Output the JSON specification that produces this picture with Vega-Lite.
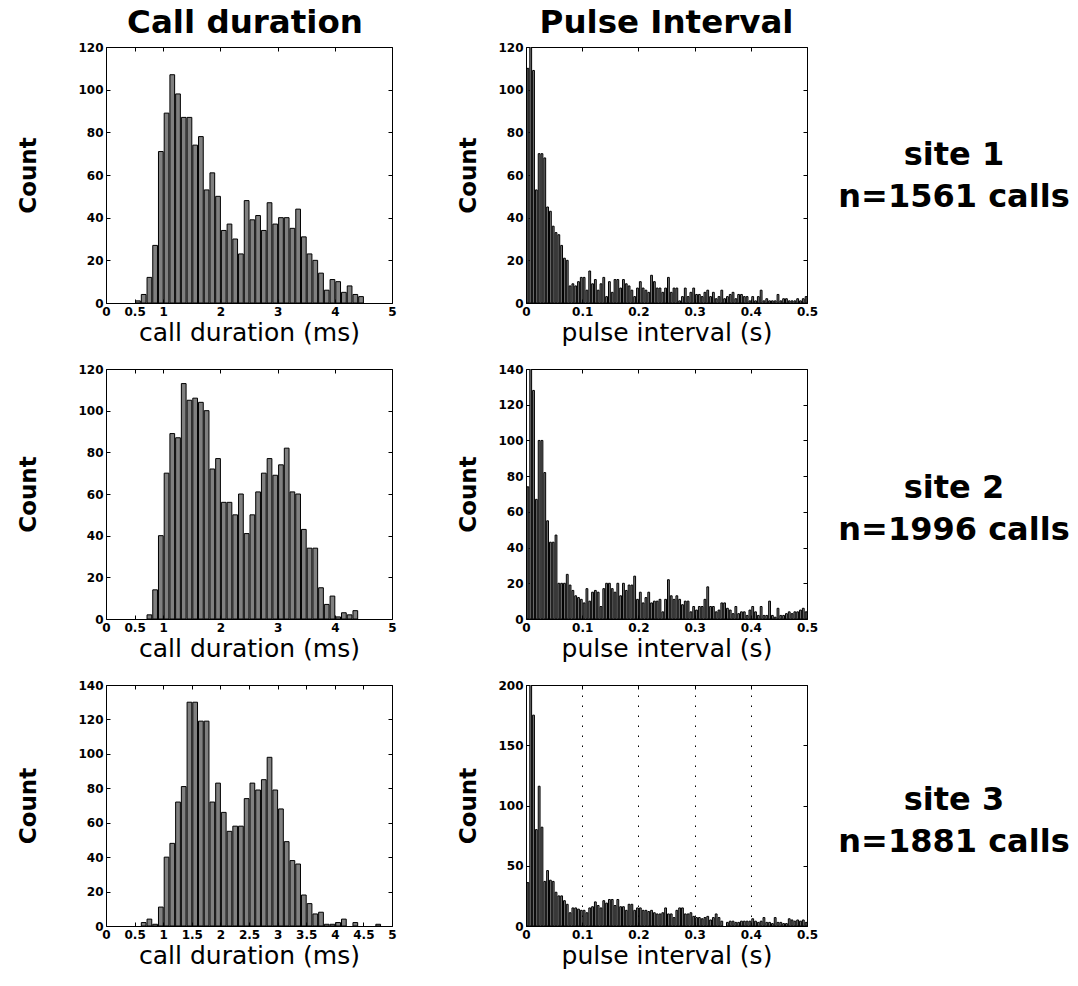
{
  "$schema": "https://vega.github.io/schema/vega-lite/v6.json",
  "padding": {"left": 17, "top": 6, "right": 0, "bottom": 0},
  "autosize": {"type": "pad"},
  "background": "white",
  "datasets": {
    "cd1": [{"b":0.5,"n":1},{"b":0.6,"n":4},{"b":0.7,"n":12},{"b":0.8,"n":27},{"b":0.9,"n":71},{"b":1.0,"n":89},{"b":1.1,"n":107},{"b":1.2,"n":98},{"b":1.3,"n":87},{"b":1.4,"n":87},{"b":1.5,"n":74},{"b":1.6,"n":78},{"b":1.7,"n":53},{"b":1.8,"n":61},{"b":1.9,"n":50},{"b":2.0,"n":34},{"b":2.1,"n":37},{"b":2.2,"n":30},{"b":2.3,"n":23},{"b":2.4,"n":48},{"b":2.5,"n":39},{"b":2.6,"n":41},{"b":2.7,"n":34},{"b":2.8,"n":47},{"b":2.9,"n":37},{"b":3.0,"n":40},{"b":3.1,"n":40},{"b":3.2,"n":35},{"b":3.3,"n":44},{"b":3.4,"n":31},{"b":3.5,"n":23},{"b":3.6,"n":20},{"b":3.7,"n":14},{"b":3.8,"n":6},{"b":3.9,"n":11},{"b":4.0,"n":10},{"b":4.1,"n":5},{"b":4.2,"n":8},{"b":4.3,"n":4},{"b":4.4,"n":3}],
    "cd2": [{"b":0.7,"n":2},{"b":0.8,"n":14},{"b":0.9,"n":40},{"b":1.0,"n":70},{"b":1.1,"n":89},{"b":1.2,"n":87},{"b":1.3,"n":113},{"b":1.4,"n":105},{"b":1.5,"n":106},{"b":1.6,"n":104},{"b":1.7,"n":100},{"b":1.8,"n":72},{"b":1.9,"n":77},{"b":2.0,"n":56},{"b":2.1,"n":56},{"b":2.2,"n":50},{"b":2.3,"n":60},{"b":2.4,"n":41},{"b":2.5,"n":50},{"b":2.6,"n":61},{"b":2.7,"n":70},{"b":2.8,"n":77},{"b":2.9,"n":69},{"b":3.0,"n":74},{"b":3.1,"n":82},{"b":3.2,"n":61},{"b":3.3,"n":60},{"b":3.4,"n":43},{"b":3.5,"n":34},{"b":3.6,"n":34},{"b":3.7,"n":15},{"b":3.8,"n":7},{"b":3.9,"n":11},{"b":4.0,"n":1},{"b":4.1,"n":3},{"b":4.2,"n":2},{"b":4.3,"n":4}],
    "cd3": [{"b":0.6,"n":2},{"b":0.7,"n":4},{"b":0.8,"n":1},{"b":0.9,"n":11},{"b":1.0,"n":40},{"b":1.1,"n":48},{"b":1.2,"n":72},{"b":1.3,"n":81},{"b":1.4,"n":130},{"b":1.5,"n":130},{"b":1.6,"n":119},{"b":1.7,"n":119},{"b":1.8,"n":72},{"b":1.9,"n":83},{"b":2.0,"n":66},{"b":2.1,"n":55},{"b":2.2,"n":58},{"b":2.3,"n":58},{"b":2.4,"n":74},{"b":2.5,"n":83},{"b":2.6,"n":79},{"b":2.7,"n":85},{"b":2.8,"n":98},{"b":2.9,"n":79},{"b":3.0,"n":68},{"b":3.1,"n":49},{"b":3.2,"n":38},{"b":3.3,"n":36},{"b":3.4,"n":18},{"b":3.5,"n":13},{"b":3.6,"n":7},{"b":3.7,"n":8},{"b":3.8,"n":1},{"b":3.9,"n":1},{"b":4.0,"n":2},{"b":4.1,"n":4},{"b":4.3,"n":2},{"b":4.7,"n":1}],
    "pi1": [{"b":0,"n":110},{"b":0.005,"n":122},{"b":0.01,"n":109},{"b":0.015,"n":53},{"b":0.02,"n":70},{"b":0.025,"n":70},{"b":0.03,"n":68},{"b":0.035,"n":45},{"b":0.04,"n":43},{"b":0.045,"n":36},{"b":0.05,"n":33},{"b":0.055,"n":32},{"b":0.06,"n":27},{"b":0.065,"n":21},{"b":0.07,"n":20},{"b":0.075,"n":8},{"b":0.08,"n":9},{"b":0.085,"n":8},{"b":0.09,"n":10},{"b":0.095,"n":12},{"b":0.1,"n":12},{"b":0.105,"n":6},{"b":0.11,"n":15},{"b":0.115,"n":9},{"b":0.12,"n":11},{"b":0.125,"n":6},{"b":0.13,"n":9},{"b":0.135,"n":12},{"b":0.14,"n":3},{"b":0.145,"n":10},{"b":0.15,"n":5},{"b":0.155,"n":11},{"b":0.16,"n":11},{"b":0.165,"n":7},{"b":0.17,"n":11},{"b":0.175,"n":9},{"b":0.18,"n":8},{"b":0.185,"n":6},{"b":0.19,"n":3},{"b":0.195,"n":7},{"b":0.2,"n":10},{"b":0.205,"n":7},{"b":0.21,"n":6},{"b":0.215,"n":5},{"b":0.22,"n":13},{"b":0.225,"n":10},{"b":0.23,"n":7},{"b":0.235,"n":7},{"b":0.24,"n":5},{"b":0.245,"n":7},{"b":0.25,"n":12},{"b":0.255,"n":5},{"b":0.26,"n":7},{"b":0.265,"n":7},{"b":0.27,"n":1},{"b":0.275,"n":3},{"b":0.28,"n":7},{"b":0.285,"n":3},{"b":0.29,"n":5},{"b":0.295,"n":7},{"b":0.3,"n":4},{"b":0.305,"n":4},{"b":0.31,"n":3},{"b":0.315,"n":5},{"b":0.32,"n":6},{"b":0.325,"n":3},{"b":0.33,"n":5},{"b":0.335,"n":2},{"b":0.34,"n":3},{"b":0.345,"n":6},{"b":0.35,"n":2},{"b":0.355,"n":3},{"b":0.36,"n":4},{"b":0.365,"n":5},{"b":0.37,"n":2},{"b":0.375,"n":4},{"b":0.38,"n":4},{"b":0.385,"n":3},{"b":0.39,"n":3},{"b":0.395,"n":1},{"b":0.4,"n":3},{"b":0.405,"n":1},{"b":0.41,"n":3},{"b":0.415,"n":6},{"b":0.42,"n":1},{"b":0.425,"n":2},{"b":0.43,"n":1},{"b":0.435,"n":1},{"b":0.44,"n":1},{"b":0.445,"n":4},{"b":0.45,"n":1},{"b":0.455,"n":2},{"b":0.46,"n":2},{"b":0.465,"n":1},{"b":0.47,"n":1},{"b":0.475,"n":1},{"b":0.48,"n":2},{"b":0.485,"n":1},{"b":0.49,"n":2},{"b":0.495,"n":3}],
    "pi2": [{"b":0,"n":74},{"b":0.005,"n":145},{"b":0.01,"n":128},{"b":0.015,"n":67},{"b":0.02,"n":100},{"b":0.025,"n":100},{"b":0.03,"n":82},{"b":0.035,"n":55},{"b":0.04,"n":43},{"b":0.045,"n":43},{"b":0.05,"n":47},{"b":0.055,"n":20},{"b":0.06,"n":20},{"b":0.065,"n":20},{"b":0.07,"n":25},{"b":0.075,"n":19},{"b":0.08,"n":16},{"b":0.085,"n":13},{"b":0.09,"n":12},{"b":0.095,"n":11},{"b":0.1,"n":9},{"b":0.105,"n":17},{"b":0.11,"n":10},{"b":0.115,"n":15},{"b":0.12,"n":16},{"b":0.125,"n":15},{"b":0.13,"n":7},{"b":0.135,"n":17},{"b":0.14,"n":20},{"b":0.145,"n":20},{"b":0.15,"n":17},{"b":0.155,"n":15},{"b":0.16,"n":20},{"b":0.165,"n":13},{"b":0.17,"n":20},{"b":0.175,"n":16},{"b":0.18,"n":19},{"b":0.185,"n":19},{"b":0.19,"n":24},{"b":0.195,"n":11},{"b":0.2,"n":15},{"b":0.205,"n":9},{"b":0.21,"n":12},{"b":0.215,"n":15},{"b":0.22,"n":9},{"b":0.225,"n":10},{"b":0.23,"n":10},{"b":0.235,"n":11},{"b":0.24,"n":4},{"b":0.245,"n":11},{"b":0.25,"n":22},{"b":0.255,"n":13},{"b":0.26,"n":11},{"b":0.265,"n":13},{"b":0.27,"n":11},{"b":0.275,"n":8},{"b":0.28,"n":10},{"b":0.285,"n":10},{"b":0.29,"n":4},{"b":0.295,"n":7},{"b":0.3,"n":5},{"b":0.305,"n":7},{"b":0.31,"n":7},{"b":0.315,"n":11},{"b":0.32,"n":18},{"b":0.325,"n":7},{"b":0.33,"n":7},{"b":0.335,"n":4},{"b":0.34,"n":5},{"b":0.345,"n":9},{"b":0.35,"n":9},{"b":0.355,"n":6},{"b":0.36,"n":5},{"b":0.365,"n":3},{"b":0.37,"n":7},{"b":0.375,"n":3},{"b":0.38,"n":4},{"b":0.385,"n":4},{"b":0.39,"n":2},{"b":0.395,"n":5},{"b":0.4,"n":7},{"b":0.405,"n":4},{"b":0.41,"n":2},{"b":0.415,"n":7},{"b":0.42,"n":2},{"b":0.425,"n":2},{"b":0.43,"n":10},{"b":0.435,"n":2},{"b":0.44,"n":1},{"b":0.445,"n":6},{"b":0.45,"n":2},{"b":0.455,"n":2},{"b":0.46,"n":3},{"b":0.465,"n":4},{"b":0.47,"n":3},{"b":0.475,"n":4},{"b":0.48,"n":4},{"b":0.485,"n":5},{"b":0.49,"n":6},{"b":0.495,"n":4}],
    "pi3": [{"b":0,"n":36},{"b":0.005,"n":210},{"b":0.01,"n":175},{"b":0.015,"n":80},{"b":0.02,"n":116},{"b":0.025,"n":82},{"b":0.03,"n":37},{"b":0.035,"n":46},{"b":0.04,"n":38},{"b":0.045,"n":37},{"b":0.05,"n":28},{"b":0.055,"n":25},{"b":0.06,"n":25},{"b":0.065,"n":21},{"b":0.07,"n":18},{"b":0.075,"n":11},{"b":0.08,"n":15},{"b":0.085,"n":15},{"b":0.09,"n":14},{"b":0.095,"n":13},{"b":0.1,"n":13},{"b":0.105,"n":11},{"b":0.11,"n":15},{"b":0.115,"n":16},{"b":0.12,"n":20},{"b":0.125,"n":17},{"b":0.13,"n":15},{"b":0.135,"n":21},{"b":0.14,"n":19},{"b":0.145,"n":22},{"b":0.15,"n":22},{"b":0.155,"n":17},{"b":0.16,"n":22},{"b":0.165,"n":16},{"b":0.17,"n":16},{"b":0.175,"n":13},{"b":0.18,"n":18},{"b":0.185,"n":18},{"b":0.19,"n":13},{"b":0.195,"n":15},{"b":0.2,"n":15},{"b":0.205,"n":13},{"b":0.21,"n":13},{"b":0.215,"n":12},{"b":0.22,"n":13},{"b":0.225,"n":11},{"b":0.23,"n":10},{"b":0.235,"n":10},{"b":0.24,"n":11},{"b":0.245,"n":15},{"b":0.25,"n":10},{"b":0.255,"n":10},{"b":0.26,"n":7},{"b":0.265,"n":13},{"b":0.27,"n":15},{"b":0.275,"n":15},{"b":0.28,"n":10},{"b":0.285,"n":10},{"b":0.29,"n":11},{"b":0.295,"n":8},{"b":0.3,"n":7},{"b":0.305,"n":7},{"b":0.31,"n":6},{"b":0.315,"n":7},{"b":0.32,"n":8},{"b":0.325,"n":5},{"b":0.33,"n":7},{"b":0.335,"n":10},{"b":0.34,"n":7},{"b":0.345,"n":4},{"b":0.355,"n":3},{"b":0.36,"n":4},{"b":0.365,"n":4},{"b":0.37,"n":3},{"b":0.375,"n":3},{"b":0.38,"n":4},{"b":0.385,"n":4},{"b":0.39,"n":4},{"b":0.395,"n":4},{"b":0.4,"n":6},{"b":0.405,"n":4},{"b":0.41,"n":3},{"b":0.415,"n":4},{"b":0.42,"n":7},{"b":0.425,"n":3},{"b":0.43,"n":3},{"b":0.435,"n":2},{"b":0.44,"n":7},{"b":0.445,"n":3},{"b":0.45,"n":3},{"b":0.455,"n":2},{"b":0.46,"n":2},{"b":0.465,"n":6},{"b":0.47,"n":5},{"b":0.475,"n":4},{"b":0.48,"n":5},{"b":0.485,"n":4},{"b":0.49,"n":5},{"b":0.495,"n":3}]
  },
  "columns": 3,
  "bounds": "flush",
  "align": "each",
  "spacing": {"row": 66, "column": 134},
  "concat": [
    {
      "width": 286, "height": 256,
      "title": {"text": "Call duration", "font": "DejaVu Sans", "fontSize": 32.5, "fontWeight": "bold", "color": "#000", "baseline": "alphabetic", "offset": -24, "anchor": "middle", "dx": -4},
      "data": {"name": "cd1"},
      "layer": [
        {"mark": {"type": "bar", "fill": "#808080", "stroke": "#000", "strokeWidth": 1, "clip": true},
         "encoding": {
           "x": {"field": "b", "type": "quantitative", "bin": {"binned": true, "step": 0.1}, "scale": {"domain": [0, 5], "nice": false, "zero": false},
                 "axis": {"orient": "bottom", "values": [0, 0.5, 1, 2, 3, 4, 5], "format": "~g", "title": "call duration (ms)"}},
           "y": {"field": "n", "type": "quantitative", "scale": {"domain": [0, 120], "nice": false},
                 "axis": {"orient": "left", "values": [0, 20, 40, 60, 80, 100, 120], "title": "Count", "titlePadding": 37}}}},
        {"mark": {"type": "bar", "opacity": 0, "clip": true},
         "encoding": {
           "x": {"field": "b", "type": "quantitative", "bin": {"binned": true, "step": 0.1}, "axis": {"orient": "top", "values": [0, 0.5, 1, 2, 3, 4, 5], "labels": false, "title": null}},
           "y": {"field": "n", "type": "quantitative", "axis": {"orient": "right", "values": [0, 20, 40, 60, 80, 100, 120], "labels": false, "title": null}}}}
      ],
      "resolve": {"axis": {"x": "independent", "y": "independent"}}
    },
    {
      "width": 281, "height": 256,
      "title": {"text": "Pulse Interval", "font": "DejaVu Sans", "fontSize": 32.5, "fontWeight": "bold", "color": "#000", "baseline": "alphabetic", "offset": -24, "anchor": "middle"},
      "data": {"name": "pi1"},
      "layer": [
        {"mark": {"type": "bar", "fill": "#808080", "stroke": "#000", "strokeWidth": 1, "clip": true},
         "encoding": {
           "x": {"field": "b", "type": "quantitative", "bin": {"binned": true, "step": 0.005}, "scale": {"domain": [0, 0.5], "nice": false, "zero": false},
                 "axis": {"orient": "bottom", "values": [0, 0.1, 0.2, 0.3, 0.4, 0.5], "format": "~g", "title": "pulse interval (s)"}},
           "y": {"field": "n", "type": "quantitative", "scale": {"domain": [0, 120], "nice": false},
                 "axis": {"orient": "left", "values": [0, 20, 40, 60, 80, 100, 120], "title": "Count", "titlePadding": 17}}}},
        {"mark": {"type": "bar", "opacity": 0, "clip": true},
         "encoding": {
           "x": {"field": "b", "type": "quantitative", "bin": {"binned": true, "step": 0.005}, "axis": {"orient": "top", "values": [0, 0.1, 0.2, 0.3, 0.4, 0.5], "labels": false, "title": null}},
           "y": {"field": "n", "type": "quantitative", "axis": {"orient": "right", "values": [0, 20, 40, 60, 80, 100, 120], "labels": false, "title": null}}}}
      ],
      "resolve": {"axis": {"x": "independent", "y": "independent"}}
    },
    {
      "width": 26, "height": 216,
      "view": {"stroke": null},
      "data": {"values": [{"t": "site 1\nn=1561 calls"}]},
      "mark": {"type": "text", "lineBreak": "\n", "font": "DejaVu Sans", "fontSize": 32, "fontWeight": "bold", "lineHeight": 42, "baseline": "middle", "align": "center", "color": "#000"},
      "encoding": {"text": {"field": "t", "type": "nominal"}}
    },
    {
      "width": 286, "height": 250,
      "data": {"name": "cd2"},
      "layer": [
        {"mark": {"type": "bar", "fill": "#808080", "stroke": "#000", "strokeWidth": 1, "clip": true},
         "encoding": {
           "x": {"field": "b", "type": "quantitative", "bin": {"binned": true, "step": 0.1}, "scale": {"domain": [0, 5], "nice": false, "zero": false},
                 "axis": {"orient": "bottom", "values": [0, 0.5, 1, 2, 3, 4, 5], "format": "~g", "title": "call duration (ms)"}},
           "y": {"field": "n", "type": "quantitative", "scale": {"domain": [0, 120], "nice": false},
                 "axis": {"orient": "left", "values": [0, 20, 40, 60, 80, 100, 120], "title": "Count", "titlePadding": 37}}}},
        {"mark": {"type": "bar", "opacity": 0, "clip": true},
         "encoding": {
           "x": {"field": "b", "type": "quantitative", "bin": {"binned": true, "step": 0.1}, "axis": {"orient": "top", "values": [0, 0.5, 1, 2, 3, 4, 5], "labels": false, "title": null}},
           "y": {"field": "n", "type": "quantitative", "axis": {"orient": "right", "values": [0, 20, 40, 60, 80, 100, 120], "labels": false, "title": null}}}}
      ],
      "resolve": {"axis": {"x": "independent", "y": "independent"}}
    },
    {
      "width": 281, "height": 250,
      "data": {"name": "pi2"},
      "layer": [
        {"mark": {"type": "bar", "fill": "#808080", "stroke": "#000", "strokeWidth": 1, "clip": true},
         "encoding": {
           "x": {"field": "b", "type": "quantitative", "bin": {"binned": true, "step": 0.005}, "scale": {"domain": [0, 0.5], "nice": false, "zero": false},
                 "axis": {"orient": "bottom", "values": [0, 0.1, 0.2, 0.3, 0.4, 0.5], "format": "~g", "title": "pulse interval (s)"}},
           "y": {"field": "n", "type": "quantitative", "scale": {"domain": [0, 140], "nice": false},
                 "axis": {"orient": "left", "values": [0, 20, 40, 60, 80, 100, 120, 140], "title": "Count", "titlePadding": 17}}}},
        {"mark": {"type": "bar", "opacity": 0, "clip": true},
         "encoding": {
           "x": {"field": "b", "type": "quantitative", "bin": {"binned": true, "step": 0.005}, "axis": {"orient": "top", "values": [0, 0.1, 0.2, 0.3, 0.4, 0.5], "labels": false, "title": null}},
           "y": {"field": "n", "type": "quantitative", "axis": {"orient": "right", "values": [0, 20, 40, 60, 80, 100, 120, 140], "labels": false, "title": null}}}}
      ],
      "resolve": {"axis": {"x": "independent", "y": "independent"}}
    },
    {
      "width": 26, "height": 238,
      "view": {"stroke": null},
      "data": {"values": [{"t": "site 2\nn=1996 calls"}]},
      "mark": {"type": "text", "lineBreak": "\n", "font": "DejaVu Sans", "fontSize": 32, "fontWeight": "bold", "lineHeight": 42, "baseline": "middle", "align": "center", "color": "#000"},
      "encoding": {"text": {"field": "t", "type": "nominal"}}
    },
    {
      "width": 286, "height": 241,
      "data": {"name": "cd3"},
      "layer": [
        {"mark": {"type": "bar", "fill": "#808080", "stroke": "#000", "strokeWidth": 1, "clip": true},
         "encoding": {
           "x": {"field": "b", "type": "quantitative", "bin": {"binned": true, "step": 0.1}, "scale": {"domain": [0, 5], "nice": false, "zero": false},
                 "axis": {"orient": "bottom", "values": [0, 0.5, 1, 1.5, 2, 2.5, 3, 3.5, 4, 4.5, 5], "format": "~g", "title": "call duration (ms)"}},
           "y": {"field": "n", "type": "quantitative", "scale": {"domain": [0, 140], "nice": false},
                 "axis": {"orient": "left", "values": [0, 20, 40, 60, 80, 100, 120, 140], "title": "Count", "titlePadding": 37}}}},
        {"mark": {"type": "bar", "opacity": 0, "clip": true},
         "encoding": {
           "x": {"field": "b", "type": "quantitative", "bin": {"binned": true, "step": 0.1}, "axis": {"orient": "top", "values": [0, 0.5, 1, 1.5, 2, 2.5, 3, 3.5, 4, 4.5, 5], "labels": false, "title": null}},
           "y": {"field": "n", "type": "quantitative", "axis": {"orient": "right", "values": [0, 20, 40, 60, 80, 100, 120, 140], "labels": false, "title": null}}}}
      ],
      "resolve": {"axis": {"x": "independent", "y": "independent"}}
    },
    {
      "width": 281, "height": 241,
      "data": {"name": "pi3"},
      "layer": [
        {"mark": {"type": "bar", "fill": "#808080", "stroke": "#000", "strokeWidth": 1, "clip": true},
         "encoding": {
           "x": {"field": "b", "type": "quantitative", "bin": {"binned": true, "step": 0.005}, "scale": {"domain": [0, 0.5], "nice": false, "zero": false},
                 "axis": {"orient": "bottom", "values": [0, 0.1, 0.2, 0.3, 0.4, 0.5], "format": "~g", "title": "pulse interval (s)", "grid": true, "gridDash": [1.5, 8.5], "gridColor": "#000", "gridWidth": 1, "gridOpacity": 1}},
           "y": {"field": "n", "type": "quantitative", "scale": {"domain": [0, 200], "nice": false},
                 "axis": {"orient": "left", "values": [0, 50, 100, 150, 200], "title": "Count", "titlePadding": 17}}}},
        {"mark": {"type": "bar", "opacity": 0, "clip": true},
         "encoding": {
           "x": {"field": "b", "type": "quantitative", "bin": {"binned": true, "step": 0.005}, "axis": {"orient": "top", "values": [0, 0.1, 0.2, 0.3, 0.4, 0.5], "labels": false, "title": null}},
           "y": {"field": "n", "type": "quantitative", "axis": {"orient": "right", "values": [0, 50, 100, 150, 200], "labels": false, "title": null}}}}
      ],
      "resolve": {"axis": {"x": "independent", "y": "independent"}}
    },
    {
      "width": 26, "height": 230,
      "view": {"stroke": null},
      "data": {"values": [{"t": "site 3\nn=1881 calls"}]},
      "mark": {"type": "text", "lineBreak": "\n", "font": "DejaVu Sans", "fontSize": 32, "fontWeight": "bold", "lineHeight": 42, "baseline": "middle", "align": "center", "color": "#000"},
      "encoding": {"text": {"field": "t", "type": "nominal"}}
    }
  ],
  "config": {
    "font": "DejaVu Sans",
    "view": {"stroke": "#000", "strokeWidth": 1},
    "axis": {
      "domain": false,
      "grid": false,
      "ticks": true,
      "tickSize": -4,
      "tickColor": "#000",
      "tickWidth": 1,
      "labelPadding": 7,
      "labelFont": "DejaVu Sans",
      "labelFontSize": 12,
      "labelFontWeight": "bold",
      "labelColor": "#000",
      "labelFlush": false,
      "labelOverlap": false,
      "titleFont": "DejaVu Sans",
      "titleColor": "#000"
    },
    "axisX": {"titleFontSize": 25, "titleFontWeight": "normal", "titlePadding": 3},
    "axisY": {"titleFontSize": 23, "titleFontWeight": "bold"}
  }
}
